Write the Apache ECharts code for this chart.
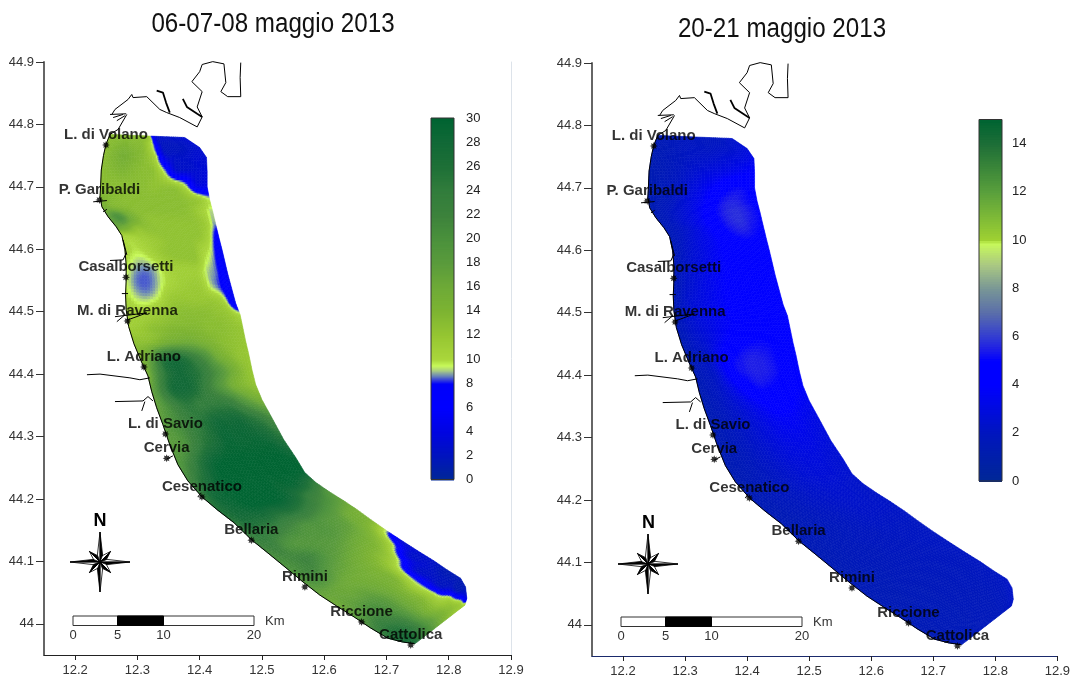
<!DOCTYPE html>
<html><head><meta charset="utf-8">
<style>html,body{margin:0;padding:0;background:#fff}#c{width:1073px;height:680px}</style>
<script src="https://cdn.jsdelivr.net/npm/echarts@6/dist/echarts.min.js"></script>
</head><body><div id="c"></div>
<script>
const titles = ['06-07-08 maggio 2013', '20-21 maggio 2013'];
const lonTicks = [12.2,12.3,12.4,12.5,12.6,12.7,12.8,12.9];
const latTicks = [44,44.1,44.2,44.3,44.4,44.5,44.6,44.7,44.8,44.9];
const legendTicksA = [0,2,4,6,8,10,12,14,16,18,20,22,24,26,28,30];
const legendTicksB = [0,2,4,6,8,10,12,14];
const scaleKm = ['0','5','10','20'];

const stations = [
 ['L. di Volano',12.2495,44.767],['P. Garibaldi',12.239,44.679],['Casalborsetti',12.2816,44.555],
 ['M. di Ravenna',12.284,44.485],['L. Adriano',12.3105,44.4115],['L. di Savio',12.345,44.304],
 ['Cervia',12.347,44.265],['Cesenatico',12.4036,44.203],['Bellaria',12.483,44.134],
 ['Rimini',12.569,44.059],['Riccione',12.66,44.003],['Cattolica',12.739,43.966]];

const coastEdge = [[12.256,44.784],[12.2495,44.768],[12.2455,44.750],[12.242,44.727],[12.241,44.703],[12.240,44.684],[12.243,44.668],[12.253,44.652],[12.266,44.636],[12.275,44.622],[12.280,44.599],[12.282,44.575],[12.282,44.551],[12.281,44.527],[12.282,44.503],[12.286,44.476],[12.2945,44.4485],[12.306,44.421],[12.317,44.397],[12.323,44.372],[12.331,44.346],[12.341,44.319],[12.352,44.287],[12.365,44.255],[12.381,44.229],[12.404,44.203],[12.429,44.182],[12.455,44.162],[12.484,44.134],[12.5095,44.1135],[12.537,44.091],[12.566,44.067],[12.593,44.046],[12.620,44.0285],[12.648,44.011],[12.675,43.993],[12.702,43.977],[12.725,43.971],[12.7455,43.968]];
const seaEdge = [[12.376,44.779],[12.400,44.763],[12.411,44.747],[12.412,44.724],[12.412,44.700],[12.416,44.679],[12.421,44.660],[12.426,44.639],[12.431,44.6185],[12.436,44.599],[12.4405,44.580],[12.445,44.561],[12.452,44.535],[12.458,44.513],[12.465,44.495],[12.469,44.476],[12.474,44.452],[12.479,44.431],[12.484,44.407],[12.490,44.383],[12.500,44.359],[12.516,44.330],[12.535,44.295],[12.5545,44.266],[12.569,44.242],[12.587,44.226],[12.609,44.211],[12.6315,44.197],[12.654,44.182],[12.676,44.166],[12.699,44.150],[12.725,44.133],[12.750,44.117],[12.776,44.101],[12.798,44.086],[12.819,44.073],[12.827,44.059],[12.829,44.041],[12.826,44.030]];

const fieldMay6 = [
[13,13,13,13,13,12.5,4,2.5,2.5,2.5,3],
[13,13.5,14,13.5,13,9.5,2.5,2,2,2.5,3],
[13,14,15,14,13,10.5,3.5,2.5,2.5,3,3],
[13,13.5,14,13.5,13,12.5,9,3.5,3,3,3.5],
[13,13,13,13,13,12.5,12.5,12,9.5,4.5,4.5],
[14,13.5,13,13,13,13,13,13,12.5,11.5,9.5],
[15,14,13.5,13,13,13,13,13,12.5,11,9],
[17,20,16,13.5,12.5,12.5,12.5,12.5,12.5,11.5,8.5],
[17,15,12.5,12.5,12.5,12.5,12.5,12.5,12.5,10.5,6.5],
[10.5,10.5,11,11.5,12,12.5,12.5,12.5,11,9.2,5],
[10.5,9.8,10,11,12,12.5,12.5,12.5,10,8.5,5],
[9.8,9,8.8,9.3,10.5,11,11,11,9.2,8.3,5],
[9.4,8.6,8.45,9,10.2,11,11.5,11.5,9.5,8.2,5],
[10,9.1,8.9,9.6,11.5,12,12,12,12,10.5,5],
[11,10.3,10.5,11.5,12.5,13,13,13,12.5,12,10],
[11,11.5,12.5,13,13.5,13.5,13.5,13,13,12.5,12],
[13,13,14,15.5,16,16,15,14,13,12.5,12],
[14,18,25,27,26,23,20,16,14,12.5,12],
[15,21,26,28,27,25,22,19,16,13.5,12],
[17,22,27,28,27,24,21,18,15,13.5,12.5],
[17,20,23,25,24,24,24,23,20,17,15],
[18,20,22,24,26,28,28,28,26,24,21],
[18,19,22,25,27,29,29,29,29,28,26],
[19,22,26,29,30,30,30,30,30,30,29],
[21,25,28,30,30,30,30,30,30,30,29],
[24,28,29,30,30,30,30,29,29,27,24],
[26,28,29,30,30,30,29,27,24,22,19],
[25,27,27,27,26,26,25,23,21,19,17],
[23,24,23,22,21,20,20,19,18,16,15],
[21,22,20,19,19,19,19,18,17,15,14],
[20,21,22,21,19,18,17,16,15,13,9.5],
[19,21,20,18,17,16,15,14,13,10,3.5],
[17,17,16.5,16,15.5,15,14,12,9.5,3.5,3],
[16,17,17,17,16,15,14,10,3.5,3,2.5],
[18,19,20,19,17,15,12.5,9,3.5,2,1.5],
[21,23,22,20,17,15,13,9.5,3,2,1.5],
[25,26,25,22,18,15,13,11.5,9.5,2.5,1.5],
[27,27,25,22,19,17,15,13.5,12.5,10.5,4],
[27,25,22,20,18,16,14,13,12,11.5,10.5]];

const fieldMay20 = [
[1.6,1.7,1.8,1.9,2,2,2,2,2,2.2,2.4],
[1.5,1.6,1.8,2,2.1,2.1,2.1,2.2,2.3,2.6,2.8],
[1.4,1.6,1.8,2,2.2,2.3,2.4,2.6,2.8,3,3.3],
[1.4,1.6,1.8,2.1,2.4,2.7,3,3.2,3.5,3.8,4],
[1.4,1.6,1.9,2.2,2.7,3.2,3.8,4.5,5,5,4.6],
[1.4,1.6,1.9,2.4,3,3.6,4.6,5.3,5.5,5.2,4.8],
[1.4,1.7,2.1,2.6,3.2,4,5,5.6,5.75,5.4,5],
[1.5,1.8,2.3,2.8,3.4,4.2,5,5.5,5.7,5.3,5],
[1.5,1.9,2.3,2.8,3.4,4,4.7,5.1,5.2,5,4.6],
[1.6,2,2.5,3,3.4,3.9,4.3,4.6,4.6,4.5,4.4],
[1.6,2.1,2.6,3,3.5,3.9,4.2,4.4,4.5,4.5,4.4],
[1.6,2.2,2.7,3.1,3.5,3.9,4.2,4.4,4.5,4.5,4.5],
[1.6,2.2,2.7,3.2,3.6,4,4.3,4.5,4.6,4.5,4.5],
[1.6,2.3,2.8,3.2,3.6,4,4.3,4.5,4.6,4.6,4.5],
[1.6,2.3,2.8,3.2,3.6,4,4.3,4.5,4.6,4.5,4.5],
[1.6,2.2,2.7,3.1,3.6,4,4.4,4.6,4.7,4.5,4.4],
[1.5,2.1,2.5,3.2,4,4.7,5,5.1,5,4.6,4.3],
[1.5,2,2.4,3.8,4.9,5.3,5.5,5.4,5.1,4.7,4.3],
[1.5,1.9,2.3,3.6,4.9,5.3,5.5,5.4,5.1,4.6,4.2],
[1.4,1.8,2.2,2.9,3.8,4.7,5.1,5,4.7,4.2,3.9],
[1.4,1.7,2.1,2.5,3,3.6,4.1,4.4,4.2,3.8,3.5],
[1.4,1.7,2,2.3,2.7,3.1,3.5,3.7,3.6,3.3,3.1],
[1.4,1.6,1.9,2.2,2.5,2.8,3.1,3.2,3.2,3,2.8],
[1.4,1.6,1.8,2.1,2.3,2.6,2.8,2.9,2.9,2.7,2.6],
[1.4,1.6,1.8,2,2.2,2.4,2.6,2.7,2.7,2.6,2.5],
[1.5,1.6,1.8,2,2.1,2.3,2.4,2.5,2.5,2.4,2.3],
[1.5,1.6,1.8,1.9,2.1,2.2,2.3,2.4,2.4,2.3,2.3],
[1.5,1.6,1.7,1.9,2,2.1,2.2,2.3,2.3,2.3,2.2],
[1.5,1.6,1.7,1.8,1.9,2,2.1,2.2,2.2,2.2,2.2],
[1.5,1.6,1.7,1.8,1.9,2,2,2.1,2.1,2.1,2.1],
[1.5,1.6,1.7,1.8,1.8,1.9,2,2,2.1,2.1,2.1],
[1.5,1.6,1.7,1.7,1.8,1.9,1.9,2,2,2.1,2.1],
[1.5,1.6,1.6,1.7,1.8,1.8,1.9,1.9,2,2,2.1],
[1.5,1.6,1.6,1.7,1.7,1.8,1.8,1.9,1.9,2,2.1],
[1.5,1.6,1.6,1.7,1.7,1.8,1.8,1.9,1.9,2,2.1],
[1.6,1.6,1.7,1.7,1.7,1.8,1.8,1.8,1.9,2,2.2],
[1.6,1.6,1.7,1.7,1.7,1.8,1.8,1.8,1.9,2,2.3],
[1.6,1.7,1.7,1.7,1.7,1.8,1.8,1.8,1.9,2,2.3],
[1.7,1.7,1.7,1.7,1.8,1.8,1.8,1.8,1.9,2,2.2]];

const deltaCoast = [[12.259,44.816],[12.264,44.824],[12.285,44.840],[12.291,44.848],[12.293,44.843],[12.315,44.8445],[12.336,44.824],[12.347,44.819],[12.368,44.811],[12.396,44.796],[12.404,44.812],[12.396,44.828],[12.404,44.8525],[12.3875,44.8685],[12.400,44.8845],[12.404,44.896],[12.421,44.9006],[12.439,44.897],[12.442,44.867],[12.434,44.8525],[12.445,44.8445],[12.466,44.8445],[12.465,44.875],[12.466,44.899]];
const thinLines = [
 [[12.283,44.816],[12.269,44.792],[12.256,44.784]],
 [[12.256,44.816],[12.282,44.817]],[[12.261,44.811],[12.277,44.816]],[[12.267,44.806],[12.280,44.814]],
 [[12.229,44.676],[12.251,44.678]],[[12.245,44.660],[12.251,44.664]],
 [[12.256,44.582],[12.277,44.583],[12.282,44.594]],[[12.277,44.615],[12.283,44.591]],
 [[12.275,44.529],[12.285,44.529]],
 [[12.264,44.492],[12.315,44.498]],[[12.267,44.484],[12.280,44.495]],[[12.285,44.487],[12.315,44.498]],
 [[12.219,44.399],[12.240,44.400],[12.288,44.394],[12.304,44.391],[12.320,44.394]],
 [[12.264,44.356],[12.309,44.357],[12.317,44.364],[12.325,44.357]],[[12.312,44.356],[12.307,44.341]],
 [[12.357,44.269],[12.347,44.264]],[[12.397,44.203],[12.402,44.210]],[[12.718,43.972],[12.726,43.974]]];
const thickLines = [
 [[12.331,44.854],[12.341,44.851],[12.346,44.835],[12.352,44.819]],
 [[12.373,44.841],[12.3795,44.828],[12.396,44.817],[12.404,44.812]]];

const rampA = [[0,[0,40,150]],[2,[0,20,190]],[4,[0,5,225]],[6,[0,0,255]],[8,[0,0,250]],[8.3,[50,60,220]],[8.7,[110,140,180]],[9.1,[170,205,130]],[9.5,[200,250,90]],[10,[170,215,60]],[12,[150,198,50]],[14,[125,180,50]],[16,[110,170,55]],[18,[90,155,60]],[20,[75,145,60]],[22,[60,130,60]],[24,[50,125,60]],[26,[30,112,55]],[28,[18,105,55]],[30,[0,100,50]]];
const rampB = [[0,[0,40,150]],[2,[0,22,190]],[4,[0,0,255]],[5,[0,0,255]],[5.5,[30,30,230]],[6,[50,60,210]],[7,[90,110,170]],[8,[120,150,150]],[9,[170,200,130]],[9.9,[200,250,90]],[10,[160,210,50]],[12,[90,160,60]],[14,[30,110,55]],[15,[0,100,50]]];

function colorAt(ramp, v){
  if (v <= ramp[0][0]) return 'rgb(' + ramp[0][1].join(',') + ')';
  for (let k = 1; k < ramp.length; k++) {
    if (v <= ramp[k][0]) {
      const a = ramp[k-1], b = ramp[k], f = (v-a[0])/(b[0]-a[0]);
      return 'rgb(' + a[1].map((c,n)=>Math.round(c+(b[1][n]-c)*f)).join(',') + ')';
    }
  }
  return 'rgb(' + ramp[ramp.length-1][1].join(',') + ')';
}

const COLS = 10;
function cellData(){
  const out = [];
  for (let i = 0; i < coastEdge.length-1; i++) for (let j = 0; j < COLS; j++) {
    const t = (j+.5)/COLS;
    out.push([(coastEdge[i][0]*(1-t)+seaEdge[i][0]*t), (coastEdge[i][1]*(1-t)+seaEdge[i][1]*t), i, j]);
  }
  return out;
}
function cr(p0,p1,p2,p3,f){return .5*(2*p1+(p2-p0)*f+(2*p0-5*p1+4*p2-p3)*f*f+(3*p1-p0-3*p2+p3)*f*f*f);}
function fieldRenderer(table, ramp){
  const at=(i,j)=>table[Math.max(0,Math.min(table.length-1,i))][Math.max(0,Math.min(COLS,j))];
  return function(params, api){
    const i = api.value(2), j = api.value(3), children = [];
    const pos = (u,w) => {
      const t = (j+w)/COLS;
      const lon = (coastEdge[i][0]*(1-t)+seaEdge[i][0]*t)*(1-u)+(coastEdge[i+1][0]*(1-t)+seaEdge[i+1][0]*t)*u;
      const lat = (coastEdge[i][1]*(1-t)+seaEdge[i][1]*t)*(1-u)+(coastEdge[i+1][1]*(1-t)+seaEdge[i+1][1]*t)*u;
      return api.coord([lon,lat]);
    };
    const c4=[at(i,j),at(i,j+1),at(i+1,j),at(i+1,j+1)];
    const lo=Math.min(...c4), hi=Math.max(...c4);
    const val = (u,w) => {
      const r=[-1,0,1,2].map(d=>cr(at(i+d,j-1),at(i+d,j),at(i+d,j+1),at(i+d,j+2),w));
      return Math.max(lo,Math.min(hi,cr(r[0],r[1],r[2],r[3],u)));
    };
    const SU = hi-lo>3 ? 8 : 5, SW = hi-lo>3 ? 8 : 4;
    for (let a = 0; a < SU; a++) for (let b = 0; b < SW; b++) {
      const u0=a/SU,u1=(a+1)/SU,w0=b/SW,w1=(b+1)/SW;
      const col = colorAt(ramp, val((u0+u1)/2,(w0+w1)/2));
      children.push({type:'polygon',silent:true,shape:{points:[pos(u0,w0),pos(u0,w1),pos(u1,w1),pos(u1,w0)]},style:{fill:col,stroke:col,lineWidth:.6}});
    }
    return {type:'group',children};
  };
}
function legendData(max){ const d=[]; for(let k=0;k<Math.round(max*10);k++) d.push([.5,k/10]); return d; }
function legendRenderer(ramp){
  return function(params, api){
    const v=api.value(1), a=api.coord([0,v]), b=api.coord([1,v+.1]);
    const col=colorAt(ramp,v+.05);
    return {type:'rect',silent:true,shape:{x:a[0],y:b[1],width:b[0]-a[0],height:a[1]-b[1]+1},style:{fill:col}};
  };
}
function frameRenderer(max){
  return function(params, api){
    const a=api.coord([0,0]), b=api.coord([1,max]);
    return {type:'rect',silent:true,z2:9,shape:{x:a[0],y:b[1],width:b[0]-a[0],height:a[1]-b[1]},style:{fill:'none',stroke:'#333',lineWidth:1}};
  };
}
const FONT='"Liberation Sans",Arial,sans-serif';
function mapX(g,lineColor){return {gridIndex:g,type:'value',min:12.15,max:12.9,splitLine:{show:false},
  axisLine:{show:true,onZero:false,lineStyle:{color:lineColor,width:1}},
  axisTick:{show:true,length:5,lineStyle:{color:'#222'},customValues:lonTicks},
  axisLabel:{color:'#333',fontSize:13,fontFamily:FONT,margin:9,customValues:lonTicks,formatter:v=>String(v)}};}
function mapY(g){return {gridIndex:g,type:'value',min:43.95,max:44.9,splitLine:{show:false},
  axisLine:{show:true,onZero:false,lineStyle:{color:'#666',width:2}},
  axisTick:{show:true,length:8,lineStyle:{color:'#333'},customValues:latTicks},
  axisLabel:{color:'#333',fontSize:13,fontFamily:FONT,margin:10,customValues:latTicks,formatter:v=>String(v)}};}
function barX(g){return {gridIndex:g,type:'value',min:0,max:1,show:false};}
function barY(g,max,ticks,m){return {gridIndex:g,type:'value',min:0,max:max,position:'right',splitLine:{show:false},
  axisLine:{show:false},axisTick:{show:true,length:6,lineStyle:{color:'#222'},customValues:ticks},
  axisLabel:{color:'#222',fontSize:13,fontFamily:FONT,margin:m,customValues:ticks,formatter:v=>String(v)}};}

const starPath='path://M50 0L60 25L85 15L75 40L100 50L75 60L85 85L60 75L50 100L40 75L15 85L25 60L0 50L25 40L15 15L40 25Z';
function mapSeries(g,table,ramp){
  const s=[{type:'custom',xAxisIndex:g,yAxisIndex:g,coordinateSystem:'cartesian2d',data:cellData(),encode:{x:0,y:1},
    renderItem:fieldRenderer(table,ramp),progressive:0,silent:true,clip:false,z:2}];
  const line=(d,w)=>({type:'line',xAxisIndex:g,yAxisIndex:g,data:d,showSymbol:false,silent:true,z:3,clip:false,lineStyle:{color:'#000',width:w}});
  s.push(line(coastEdge,1),line(deltaCoast,1));
  thinLines.forEach(d=>s.push(line(d,1)));
  thickLines.forEach(d=>s.push(line(d,1.8)));
  s.push({type:'scatter',xAxisIndex:g,yAxisIndex:g,silent:true,z:5,clip:false,symbol:starPath,symbolSize:8,itemStyle:{color:'#000'},
    data:stations.map(r=>({value:[r[1],r[2]],name:r[0]})),
    label:{show:true,position:'top',distance:-1,formatter:p=>p.name,fontFamily:FONT,fontSize:15,fontWeight:'bold',color:'#000',textBorderWidth:0}});
  return s;
}
function barSeries(g,ramp,max){
  return [{type:'custom',xAxisIndex:g,yAxisIndex:g,data:legendData(max),encode:{x:0,y:1},renderItem:legendRenderer(ramp),progressive:0,silent:true,z:2},
          {type:'custom',xAxisIndex:g,yAxisIndex:g,data:[[.5,max/2]],encode:{x:0,y:1},renderItem:frameRenderer(max),silent:true,z:3}];
}
function compass(cx,cy){
  const out=[];
  const spike=(dx,dy,len,base,wid,z)=>{
    const px=-dy,py=dx,tip=[cx+dx*len,cy+dy*len];
    const s1=[cx+dx*base+px*wid,cy+dy*base+py*wid],s2=[cx+dx*base-px*wid,cy+dy*base-py*wid];
    out.push({type:'polygon',z:z,silent:true,shape:{points:[[cx,cy],tip,s2]},style:{fill:'#fff',stroke:'#000',lineWidth:.8}});
    out.push({type:'polygon',z:z,silent:true,shape:{points:[[cx,cy],tip,s1]},style:{fill:'#000',stroke:'#000',lineWidth:.8}});
  };
  const r=Math.SQRT1_2;
  [[r,r],[-r,r],[r,-r],[-r,-r]].forEach(d=>spike(d[0],d[1],15,4,3.5,20));
  [[0,-1],[0,1],[1,0],[-1,0]].forEach(d=>spike(d[0],d[1],30,7,2.6,21));
  return out;
}
function scaleBar(x,y){
  const w=181,h=9.5,a=44.5,b=90.5,out=[];
  out.push({type:'rect',z:20,silent:true,shape:{x:x,y:y,width:w,height:h},style:{fill:'#fff',stroke:'#333',lineWidth:1}});
  out.push({type:'rect',z:21,silent:true,shape:{x:x+a,y:y,width:b-a,height:h},style:{fill:'#000',stroke:'#000',lineWidth:1}});
  [0,a,b,w].forEach((dx,k)=>out.push({type:'text',z:21,silent:true,x:x+dx,y:y+19,style:{text:scaleKm[k],fill:'#333',font:'13px '+FONT,textAlign:'center',textVerticalAlign:'middle'}}));
  out.push({type:'text',z:21,silent:true,x:x+192,y:y+5,style:{text:'Km',fill:'#333',font:'13px '+FONT,textAlign:'left',textVerticalAlign:'middle'}});
  return out;
}
function northLabel(x,y){return {type:'text',z:21,silent:true,x:x,y:y,style:{text:'N',fill:'#000',font:'bold 18px '+FONT,textAlign:'center',textVerticalAlign:'middle'}};}
function titleText(s,x,y){return {type:'text',z:21,silent:true,x:x,y:y,scaleX:.895,style:{text:s,fill:'#111',font:'27px '+FONT,textAlign:'center',textVerticalAlign:'middle'}};}

const chart=echarts.init(document.getElementById('c'),null,{renderer:'canvas'});
chart.setOption({
  animation:false,backgroundColor:'#fff',
  grid:[
   {left:44,width:467,top:62,height:593},
   {left:592,width:467,top:63,height:593},
   {left:431,width:23,top:118,height:361.5},
   {left:979,width:23,top:119.5,height:361.5}],
  xAxis:[mapX(0,'#222'),mapX(1,'#1a2a6c'),barX(2),barX(3)],
  yAxis:[mapY(0),mapY(1),barY(2,30,legendTicksA,12),barY(3,15,legendTicksB,10),
   {gridIndex:0,type:'value',min:43.95,max:44.9,position:'right',splitLine:{show:false},axisLine:{show:true,onZero:false,lineStyle:{color:'#dde3ea',width:1}},axisTick:{show:false},axisLabel:{show:false}}],
  series:[...mapSeries(0,fieldMay6,rampA),...mapSeries(1,fieldMay20,rampB),...barSeries(2,rampA,30),...barSeries(3,rampB,15)],
  graphic:{elements:[titleText(titles[0],273,25),titleText(titles[1],782,30),...compass(100,562),...compass(648,564),northLabel(100,521),northLabel(648.5,523),...scaleBar(73,616),...scaleBar(621,617)]}
});
</script></body></html>
